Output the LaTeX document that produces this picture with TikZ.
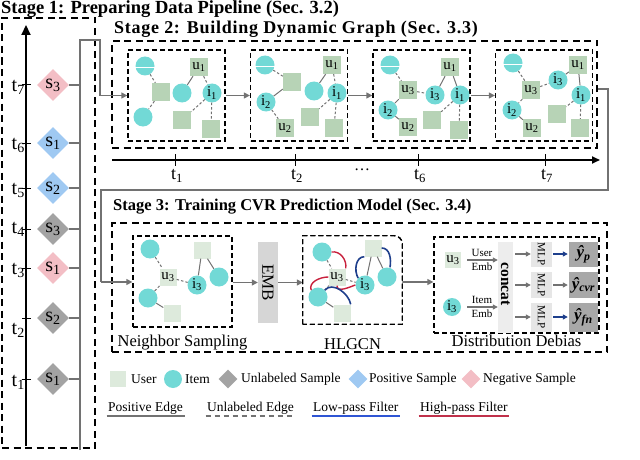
\documentclass[tikz,border=0pt]{standalone}
\usepackage{fontspec}
\setmainfont{Liberation Serif}
\usetikzlibrary{arrows.meta,shapes.geometric}

\definecolor{itemc}{HTML}{72D9D6}
\definecolor{userc}{HTML}{B7D3B6}
\definecolor{userl}{HTML}{DDEADC}
\definecolor{unlc}{HTML}{A3A3A3}
\definecolor{posc}{HTML}{9FC9F2}
\definecolor{negc}{HTML}{F3BEC5}
\definecolor{edgec}{HTML}{727272}
\definecolor{lowc}{HTML}{1E3F8C}
\definecolor{highc}{HTML}{C8203C}
\definecolor{lowl}{HTML}{2F55D4}
\definecolor{highl}{HTML}{C0304A}
\definecolor{embc}{HTML}{D6D6D6}
\definecolor{catc}{HTML}{EDEDED}
\definecolor{mlpc}{HTML}{E6E6E6}
\definecolor{outc}{HTML}{A8A8A8}

\newcommand{\nodetxt}{\fontsize{15}{15}\selectfont}
\newcommand{\legtxt}{\fontsize{13.5}{13.5}\selectfont}

\begin{document}
\begin{tikzpicture}[x=1pt, y=-1pt,
		item/.style={circle, fill=itemc, minimum size=19pt, inner sep=0pt, font=\nodetxt},
		user/.style={rectangle, fill=userc, minimum size=18pt, inner sep=0pt, font=\nodetxt},
		luser/.style={user, fill=userl, minimum size=17pt},
		sample/.style={diamond, aspect=1, minimum size=32pt, inner sep=0pt, font=\fontsize{20}{20}\selectfont},
		lsample/.style={diamond, aspect=1, minimum size=19pt, inner sep=0pt},
		pe/.style={draw=edgec, line width=1pt},
		ue/.style={draw=edgec, line width=1pt, dash pattern=on 2.5pt off 2pt},
		hpf/.style={draw=highc, line width=1.4pt},
		lpf/.style={draw=lowc, line width=1.6pt},
		flow/.style={draw=edgec, line width=1.3pt, -{Triangle[length=6pt,width=6pt]}},
		stagebox/.style={draw, line width=1.8pt, dash pattern=on 7pt off 4.5pt, inner sep=0pt},
		panel/.style={draw, line width=1.3pt, dash pattern=on 5pt off 3pt, inner sep=0pt},
		title/.style={font=\bfseries\fontsize{18}{18}\selectfont, anchor=west, inner sep=0pt},
		lab/.style={font=\fontsize{16.5}{16.5}\selectfont, inner sep=0pt},
		leg/.style={font=\legtxt, anchor=west, inner sep=0pt},
		legline/.style={inner sep=1.5pt, font=\legtxt, anchor=west}
	]
	\useasboundingbox (0,0) rectangle (640,460);

	% Stage 1
	\node[title, font=\bfseries\fontsize{18.5}{18.5}\selectfont] (title1) at (1,9) {Stage 1: Preparing Data Pipeline (Sec. 3.2)};
	\node[stagebox, minimum width=93pt, minimum height=430pt] (S1) at (48.5,233) {};
	\coordinate (ax0) at (26,446);
	\coordinate (ax1) at (26,25);
	\draw[line width=2.2pt, -{Triangle[length=10pt,width=9pt]}] (ax0) -- (ax1);
	\coordinate (busB) at (80,450);
	\coordinate (busT) at (80,40);
	\coordinate (busR) at (100,40);
	\coordinate (busD) at (100,95.5);
	\foreach \t/\y/\ly/\s/\c in {1/379/382/1/unlc, 2/318/330/2/unlc, 3/268/270/1/negc, 4/229/229/3/unlc, 5/188/190/2/posc, 6/143/145/1/posc, 7/85/87/3/negc} {
		\draw[line width=1pt] (22,\y) -- (31,\y);
		\node[font=\fontsize{20}{20}\selectfont, anchor=east, inner sep=0pt] (tl\t) at (25,\ly) {t\textsubscript{\t}};
		\node[sample, fill=\c] (smp\t) at (53,\y) {s\textsubscript{\s}};
		\draw[pe, line width=1.3pt] (smp\t.east) -- (smp\t.east -| busB);
	}
	\draw[pe, line width=1.3pt] (busB) -- (busT) -- (busR) -- (busD);

	% Stage 2
	\node[title, font=\bfseries\fontsize{18}{18}\selectfont\addfontfeature{LetterSpace=4}] (title2) at (114,29) {Stage 2: Building Dynamic Graph (Sec. 3.3)};
	\node[stagebox, minimum width=485pt, minimum height=107pt] (S2) at (354.5,94.5) {};
	\foreach \p/\x in {1/176.5, 2/299, 3/421.5, 4/544}
		\node[panel, minimum width=97pt, minimum height=91pt] (P\p) at (\x,95.5) {};
	\draw[flow] (busD) -- (P1.west);
	\draw[flow] (P1) -- (P2);
	\draw[flow] (P2) -- (P3);
	\draw[flow] (P3) -- (P4);

	% panel t1
	\node[item] (A1) at (145,66) {};
	\node[user] (A2) at (161,92) {};
	\node[item] (A3) at (143,117) {};
	\node[item] (A4) at (182,93) {};
	\node[user] (A5) at (199,67) {u\textsubscript{1}};
	\node[item] (A6) at (212,93) {i\textsubscript{1}};
	\node[user] (A7) at (182,120) {};
	\node[user] (A8) at (211,129) {};
	\draw[ue] (A1) -- (A2);
	\draw[ue] (A2) -- (A3);
	\draw[pe] (A4) -- (A5);
	\draw[ue] (A5) -- (A6);
	\draw[ue] (A6) -- (A7);
	\draw[ue] (A6) -- (A8);

	% panel t2
	\node[item] (B1) at (265,65) {};
	\node[user] (B2) at (292,82) {};
	\node[item] (B3) at (266,102) {i\textsubscript{2}};
	\node[user] (B4) at (285,128) {u\textsubscript{2}};
	\node[item] (B5) at (314,91) {};
	\node[user] (B6) at (332,65) {u\textsubscript{1}};
	\node[item] (B7) at (337,93) {i\textsubscript{1}};
	\node[user] (B8) at (310,117) {};
	\node[user] (B9) at (334,128) {};
	\draw[ue] (B1) -- (B2);
	\draw[pe] (B2) -- (B3);
	\draw[ue] (B3) -- (B4);
	\draw[pe] (B5) -- (B6);
	\draw[ue] (B6) -- (B7);
	\draw[ue] (B7) -- (B8);
	\draw[ue] (B7) -- (B9);

	% panel t6
	\node[item] (C1) at (390,65) {};
	\node[user] (C2) at (408,90) {u\textsubscript{3}};
	\node[item] (C3) at (388,110) {i\textsubscript{2}};
	\node[user] (C4) at (408,127) {u\textsubscript{2}};
	\node[item] (C5) at (435,95) {i\textsubscript{3}};
	\node[user] (C6) at (450,67) {u\textsubscript{1}};
	\node[item] (C7) at (460,95) {i\textsubscript{1}};
	\node[user] (C8) at (432,120) {};
	\node[user] (C9) at (459,130) {};
	\draw[ue] (C1) -- (C2);
	\draw[ue] (C2) -- (C5);
	\draw[pe] (C2) -- (C3);
	\draw[pe] (C3) -- (C4);
	\draw[pe] (C5) -- (C6);
	\draw[pe] (C6) -- (C7);
	\draw[ue] (C7) -- (C8);
	\draw[ue] (C7) -- (C9);

	% panel t7
	\node[item] (D1) at (513,63) {};
	\node[user] (D2) at (531,90) {u\textsubscript{3}};
	\node[item] (D3) at (558,80) {i\textsubscript{3}};
	\node[user] (D4) at (578,65) {u\textsubscript{1}};
	\node[item] (D5) at (581,95) {i\textsubscript{1}};
	\node[item] (D6) at (512,110) {i\textsubscript{2}};
	\node[user] (D7) at (532,128) {u\textsubscript{2}};
	\node[user] (D8) at (557,114) {};
	\node[user] (D9) at (580,128) {};
	\draw[ue] (D1) -- (D2);
	\draw[ue] (D2) -- (D3);
	\draw[pe] (D3) -- (D4);
	\draw[pe] (D4) -- (D5);
	\draw[ue] (D5) -- (D8);
	\draw[ue] (D5) -- (D9);
	\draw[ue] (D2) -- (D6);
	\draw[pe] (D6) -- (D7);

	% split items
	\foreach \n in {A1, B1, C1, D1}
		\draw[white, line width=1pt] ([yshift=-2pt]\n.west) -- ([yshift=-2pt]\n.east);

	% time line
	\coordinate (ax2a) at (112,160);
	\coordinate (ax2b) at (600,160);
	\draw[line width=1.8pt, -{Triangle[length=8pt,width=7pt]}] (ax2a) -- (ax2b);
	\foreach \n/\x in {1/175, 2/295, 6/418, 7/545} {
		\draw[line width=1pt] (\x,154) -- (\x,166);
		\node[font=\fontsize{18}{18}\selectfont, inner sep=0pt] (tt\n) at (\x+2,176) {t\textsubscript{\n}};
	}
	\node[font=\fontsize{16}{16}\selectfont, inner sep=0pt] (dots) at (362,170) {\dots};

	% back to stage 3
	\coordinate (r1) at (608,89);
	\coordinate (r2) at (608,190);
	\coordinate (r3) at (101,190);
	\coordinate (r4) at (101,282);

	% Stage 3
	\node[title, font=\bfseries\fontsize{16.5}{16.5}\selectfont] (title3) at (113,207) {Stage 3: Training CVR Prediction Model (Sec. 3.4)};
	\node[stagebox, minimum width=495pt, minimum height=129pt] (S3) at (359.5,287.5) {};
	\node[panel, minimum width=99pt, minimum height=91pt] (NS) at (182.5,281.5) {};
	\node[lab, anchor=north] (nslab) at (NS.south) [yshift=-7pt] {Neighbor Sampling};
	\node[fill=embc, minimum width=20pt, minimum height=81pt, inner sep=0pt] (EMB) at (268,282.5) {};
	\node[rotate=-90, font=\fontsize{17}{17}\selectfont] (embt) at (EMB) {EMB};
	\node[minimum width=99pt, minimum height=88pt, inner sep=0pt] (HL) at (352.5,280) {};
	\node[lab, anchor=north] (hllab) at (HL.south) [yshift=-14pt] {HLGCN};
	\node[panel, minimum width=165pt, minimum height=96pt] (DD) at (516.5,285) {};
	\node[lab, anchor=north] (ddlab) at (DD.south) [yshift=-1pt] {Distribution Debias};

	\draw[pe, line width=1.3pt] (S2.east |- r1) -- (r1) -- (r2) -- (r3) -- (r4);
	\draw[flow] (r4) -- (r4 -| NS.west);
	\draw[flow] (NS.east |- EMB) -- (EMB.west);
	\draw[flow] (EMB.east) -- (EMB.east -| HL.west);
	\draw[flow] (HL.east |- r4) -- (r4 -| DD.west);

	% neighbor sampling
	\node[item] (N1) at (150,249) {};
	\node[luser] (N2) at (168,277) {u\textsubscript{3}};
	\node[item] (N3) at (197,285) {i\textsubscript{3}};
	\node[luser] (N4) at (202,250) {};
	\node[item] (N5) at (219,277) {};
	\node[item] (N6) at (148,298) {};
	\node[luser] (N7) at (172,313) {};
	\draw[ue] (N1) -- (N2);
	\draw[ue] (N2) -- (N3);
	\draw[pe] (N3) -- (N4);
	\draw[pe] (N4) -- (N5);
	\draw[ue] (N6) -- (N2);
	\draw[pe] (N6) -- (N7);

	% HLGCN stack
	\foreach \o in {2,1,0}
		\draw[panel, fill=white, shift={(2.5*\o,4.5*\o)}] (HL.south west) -- (HL.north west) -- ([xshift=-8pt]HL.north east) to[out=0,in=90] ([yshift=-8pt]HL.north east) -- (HL.south east) -- cycle;
	\node[item] (H1) at (322,252) {};
	\node[luser] (H2) at (337,277) {u\textsubscript{3}};
	\node[item] (H3) at (365,285) {i\textsubscript{3}};
	\node[luser] (H4) at (373,248) {};
	\node[item] (H5) at (387,277) {};
	\node[item] (H6) at (318,297) {};
	\node[luser] (H7) at (342,313) {};
	\draw[ue] (H1) -- (H2);
	\draw[ue] (H2) -- (H3);
	\draw[pe] (H3) -- (H4);
	\draw[pe] (H4) -- (H5);
	\draw[ue] (H6) -- (H2);
	\draw[pe] (H6) -- (H7);
	\draw[hpf] (H1.east) to[out=10, in=80] (H2.north east);
	\draw[hpf] (H6.north west) to[out=110, in=180] (H2.west);
	\draw[hpf] (H2.south) to[out=-90, in=200] (H3.west);
	\draw[lpf] (H4.south west) to[out=180, in=120] (H3.north west);
	\draw[lpf] (H4.east) to[out=0, in=80] ([xshift=3pt]H5.north);
	\draw[lpf] (H6.north east) to[out=50, in=100] (H7.north east);

	% distribution debias
	\node[luser, minimum size=16pt] (Q1) at (453,260) {u\textsubscript{3}};
	\node[item, minimum size=18pt] (Q2) at (452,307) {i\textsubscript{3}};
	\node[fill=catc, minimum width=15pt, minimum height=91pt, inner sep=0pt] (CAT) at (505.5,287.5) {};
	\node[rotate=-90, font=\bfseries\fontsize{15.5}{15.5}\selectfont] (catt) at (505.5,284) {concat};
	\node[font=\fontsize{11}{11}\selectfont, inner sep=0pt] (ue1) at (482,253) {User};
	\node[font=\fontsize{11}{11}\selectfont, inner sep=0pt] (ue2) at (482,267) {Emb};
	\node[font=\fontsize{11}{11}\selectfont, inner sep=0pt] (ie1) at (482,300) {Item};
	\node[font=\fontsize{11}{11}\selectfont, inner sep=0pt] (ie2) at (482,314) {Emb};
	\draw[flow, line width=1.1pt, shorten <=6pt, -{Triangle[length=5pt,width=5pt]}] (Q1) -- (Q1 -| CAT.west);
	\draw[flow, line width=1.1pt, shorten <=6pt, -{Triangle[length=5pt,width=5pt]}] (Q2) -- (Q2 -| CAT.west);
	\foreach \m/\y/\yh/\c/\lbl in {1/254/25/lowc/p, 2/285/26/edgec/cvr, 3/317/29/lowc/fn} {
		\node[fill=mlpc, minimum width=21pt, minimum height=\yh pt, inner sep=0pt] (M\m) at (541.5,\y) {};
		\node[rotate=-90, font=\fontsize{11}{11}\selectfont, inner sep=0pt] (mt\m) at (M\m) {MLP};
		\node[fill=outc, minimum width=29pt, minimum height=\yh pt, inner sep=0pt] (O\m) at (583.5,\y) {};
		\node[font=\bfseries\itshape\fontsize{17}{17}\selectfont, inner sep=0pt] (ot\m) at (O\m) {ŷ\textsubscript{\lbl}};
		\draw[flow, line width=1.1pt, shorten <=2pt, -{Triangle[length=5pt,width=5pt]}] (CAT.east |- M\m) -- (M\m.west);
		\draw[flow, draw=\c, line width=1.3pt, shorten <=1pt, shorten >=1pt, -{Triangle[length=5pt,width=5pt]}] (M\m.east) -- (O\m.west);
	}

	% legend
	\node[luser, minimum size=16pt] (LU) at (118,379) {};
	\node[leg] (LUt) at (131,379) {User};
	\node[item, minimum size=18pt] (LI) at (173,379) {};
	\node[leg] (LIt) at (185,379) {Item};
	\node[lsample, fill=unlc] (LS1) at (228,379) {};
	\node[leg] (LS1t) at (241,379) {Unlabeled Sample};
	\node[lsample, fill=posc] (LS2) at (358,379) {};
	\node[leg] (LS2t) at (369,379) {Positive Sample};
	\node[lsample, fill=negc] (LS3) at (471,379) {};
	\node[leg] (LS3t) at (483,379) {Negative Sample};

	\node[legline] (LE1) at (106.5,408) {Positive Edge};
	\node[legline] (LE2) at (205.5,408) {Unlabeled Edge};
	\node[legline] (LE3) at (311.5,408) {Low-pass Filter};
	\node[legline] (LE4) at (418.5,408) {High-pass Filter};
	\draw[pe, line width=1.5pt] (LE1.south west) -- (LE1.south east);
	\draw[ue, line width=1.5pt, dash pattern=on 5pt off 4pt] (LE2.south west) -- (LE2.south east);
	\draw[draw=lowl, line width=1.5pt] (LE3.south west) -- (LE3.south east);
	\draw[draw=highl, line width=1.5pt] (LE4.south west) -- (LE4.south east);
\end{tikzpicture}
\end{document}
